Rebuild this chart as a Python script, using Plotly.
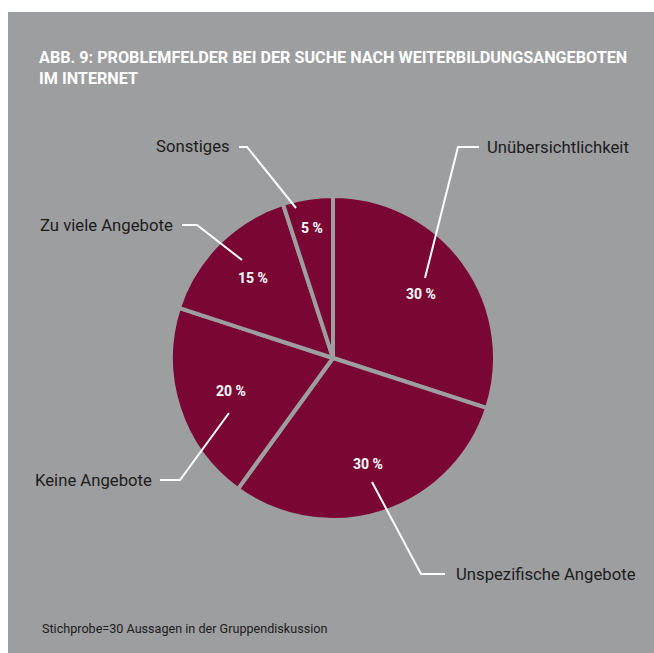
import math
import plotly.graph_objects as go

# ---- data ----
categories = ["Unübersichtlichkeit", "Unspezifische Angebote", "Keine Angebote",
              "Zu viele Angebote", "Sonstiges"]
values = [30, 30, 20, 15, 5]
pct_labels = [f"{v} %" for v in values]
title_text = "ABB. 9: PROBLEMFELDER BEI DER SUCHE NACH WEITERBILDUNGSANGEBOTEN<br>IM INTERNET"
footnote = "Stichprobe=30 Aussagen in der Gruppendiskussion"

# ---- style ----
W, H = 654, 653
BG = "#9d9ea0"
MAROON = "#7a0733"
FONT = "Roboto, Liberation Sans, sans-serif"

def px(x):
    return x / W

def py(y):
    return 1 - y / H

# pie placement (pixels): centre and radius
cx, cy, R = 333, 358, 162
# radial position of the percent labels (fraction of radius), per slice
label_radius = [0.67, 0.69, 0.66, 0.70, 0.81]

fig = go.Figure()
fig.add_trace(go.Pie(
    labels=categories,
    values=values,
    textinfo="none",
    sort=False,
    direction="clockwise",
    rotation=0,
    hole=0,
    marker=dict(colors=[MAROON] * len(values), line=dict(color=BG, width=4)),
    domain=dict(x=[px(cx - R), px(cx + R)], y=[py(cy + R), py(cy - R)]),
    showlegend=False,
    hoverinfo="label+percent",
))

# leader lines (pixel paths) and label anchor positions
leaders = [
    ([(425, 278), (458, 147), (479, 147)], 485, 147, "left"),
    ([(372, 482), (421, 574), (445, 574)], 454, 574, "left"),
    ([(229, 413), (180, 480), (160, 480)], 154, 480, "right"),
    ([(242, 260), (197, 225), (182, 225)], 175, 225, "right"),
    ([(296, 208), (247, 147), (239, 147)], 232, 146, "right"),
]

shapes = [dict(type="rect", xref="paper", yref="paper", x0=px(8), x1=1, y0=0, y1=py(12),
               fillcolor=BG, line=dict(width=0), layer="below")]
annotations = []
for (pts, lx, ly, anc), cat in zip(leaders, categories):
    path = "M " + " L ".join(f"{px(x):.5f},{py(y):.5f}" for x, y in pts)
    shapes.append(dict(type="path", xref="paper", yref="paper", path=path,
                       line=dict(color="white", width=2), layer="above"))
    annotations.append(dict(text=cat, x=px(lx), y=py(ly), xref="paper", yref="paper",
                            xanchor=anc, yanchor="middle", showarrow=False,
                            font=dict(family=FONT, size=16.7, color="#1c1c1c")))

# percent labels at each slice's mid-angle (computed from the values)
total = sum(values)
cum = 0
for v, lab, rf in zip(values, pct_labels, label_radius):
    mid = (cum + v / 2) / total * 2 * math.pi
    cum += v
    x = cx + rf * R * math.sin(mid)
    y = cy - rf * R * math.cos(mid)
    annotations.append(dict(text=lab, x=px(x), y=py(y), xref="paper", yref="paper",
                            xanchor="center", yanchor="middle", showarrow=False,
                            font=dict(family=FONT, size=14, color="white", weight="bold")))

annotations.append(dict(text=title_text, x=px(37), y=py(46), xref="paper", yref="paper",
                        xanchor="left", yanchor="top", align="left", showarrow=False,
                        font=dict(family=FONT, size=16.2, color="white", weight="bold")))
annotations.append(dict(text=footnote, x=px(40), y=py(628), xref="paper", yref="paper",
                        xanchor="left", yanchor="middle", showarrow=False,
                        font=dict(family=FONT, size=12.6, color="#1c1c1c")))

fig.update_layout(
    width=W, height=H,
    margin=dict(l=0, r=0, t=0, b=0),
    paper_bgcolor="white",
    plot_bgcolor="white",
    shapes=shapes,
    annotations=annotations,
)

fig.write_html("out.html")
